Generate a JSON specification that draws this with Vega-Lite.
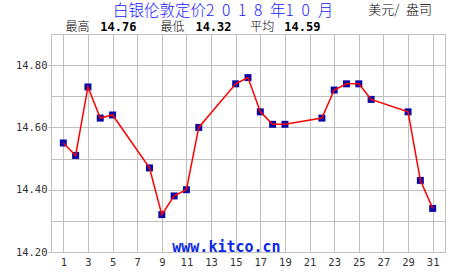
{
  "$schema": "https://vega.github.io/schema/vega-lite/v6.json",
  "autosize": "none",
  "width": 394,
  "height": 218,
  "padding": {"left": 51, "top": 34, "right": 5, "bottom": 23},
  "background": "#ffffff",
  "config": {
    "view": {"stroke": "#c0c0c0", "strokeWidth": 1},
    "axis": {
      "labelFont": "DejaVu Sans Mono",
      "labelFontSize": 10.5,
      "labelColor": "#333333",
      "gridColor": "#c0c0c0",
      "gridOpacity": 1,
      "domain": false,
      "title": null,
      "labelOverlap": false,
      "labelFlush": false
    }
  },
  "data": {
    "values": [
      {"day": 1, "price": 14.55},
      {"day": 2, "price": 14.51},
      {"day": 3, "price": 14.73},
      {"day": 4, "price": 14.63},
      {"day": 5, "price": 14.64},
      {"day": 8, "price": 14.47},
      {"day": 9, "price": 14.32},
      {"day": 10, "price": 14.38},
      {"day": 11, "price": 14.40},
      {"day": 12, "price": 14.60},
      {"day": 15, "price": 14.74},
      {"day": 16, "price": 14.76},
      {"day": 17, "price": 14.65},
      {"day": 18, "price": 14.61},
      {"day": 19, "price": 14.61},
      {"day": 22, "price": 14.63},
      {"day": 23, "price": 14.72},
      {"day": 24, "price": 14.74},
      {"day": 25, "price": 14.74},
      {"day": 26, "price": 14.69},
      {"day": 29, "price": 14.65},
      {"day": 30, "price": 14.43},
      {"day": 31, "price": 14.34}
    ]
  },
  "encoding": {
    "x": {
      "field": "day",
      "type": "quantitative",
      "scale": {"domain": [0, 32], "nice": false, "zero": false},
      "axis": {
        "values": [1, 3, 5, 7, 9, 11, 13, 15, 17, 19, 21, 23, 25, 27, 29, 31],
        "ticks": false,
        "labelPadding": 5,
        "labelFlush": false,
        "labelOverlap": false
      }
    },
    "y": {
      "field": "price",
      "type": "quantitative",
      "scale": {"domain": [14.2, 14.9], "nice": false, "zero": false},
      "axis": {
        "values": [14.2, 14.3, 14.4, 14.5, 14.6, 14.7, 14.8, 14.9],
        "labelExpr": "round(datum.value*10) % 2 == 0 ? format(datum.value, '.2f') : ''",
        "tickSize": 3,
        "tickColor": {"condition": {"test": "round(datum.value*10) % 2 == 0", "value": "#c0c0c0"}, "value": "transparent"},
        "labelPadding": 1,
        "labelFlush": false,
        "labelOverlap": false
      }
    }
  },
  "layer": [
    {"mark": {"type": "point", "shape": "square", "filled": true, "size": 49, "color": "#0a0aa8", "opacity": 1}},
    {"mark": {"type": "line", "color": "#ff0000", "strokeWidth": 1.5}},
    {
      "transform": [{"filter": "datum.day == 1"}],
      "mark": {"type": "text", "text": "www.kitco.cn", "font": "DejaVu Sans Mono", "fontWeight": "bold", "fontSize": 15, "color": "#0a28e6", "align": "center", "baseline": "middle"},
      "encoding": {"x": {"datum": 14.25}, "y": {"datum": 14.216}}
    },
    {
      "transform": [{"filter": "datum.day == 1"}],
      "mark": {"type": "text", "text": "白银伦敦定价2\u20020\u20021\u20028\u2002年1\u20020\u2002月", "font": "Noto Sans CJK SC", "fontSize": 15.5, "fontWeight": 300, "color": "#1a1aff", "align": "center", "baseline": "middle"},
      "encoding": {"x": {"datum": 13.97}, "y": {"datum": 14.975}}
    },
    {
      "transform": [{"filter": "datum.day == 1"}],
      "mark": {"type": "text", "text": "最高", "font": "Noto Sans CJK SC", "fontSize": 12, "fontWeight": 300, "color": "#000000", "align": "left", "baseline": "middle"},
      "encoding": {"x": {"datum": 1.18}, "y": {"datum": 14.923}}
    },
    {
      "transform": [{"filter": "datum.day == 1"}],
      "mark": {"type": "text", "text": "14.76", "font": "DejaVu Sans Mono", "fontWeight": "bold", "fontSize": 12, "color": "#000000", "align": "left", "baseline": "middle"},
      "encoding": {"x": {"datum": 4.0}, "y": {"datum": 14.923}}
    },
    {
      "transform": [{"filter": "datum.day == 1"}],
      "mark": {"type": "text", "text": "最低", "font": "Noto Sans CJK SC", "fontSize": 12, "fontWeight": 300, "color": "#000000", "align": "left", "baseline": "middle"},
      "encoding": {"x": {"datum": 8.89}, "y": {"datum": 14.923}}
    },
    {
      "transform": [{"filter": "datum.day == 1"}],
      "mark": {"type": "text", "text": "14.32", "font": "DejaVu Sans Mono", "fontWeight": "bold", "fontSize": 12, "color": "#000000", "align": "left", "baseline": "middle"},
      "encoding": {"x": {"datum": 11.73}, "y": {"datum": 14.923}}
    },
    {
      "transform": [{"filter": "datum.day == 1"}],
      "mark": {"type": "text", "text": "平均", "font": "Noto Sans CJK SC", "fontSize": 12, "fontWeight": 300, "color": "#000000", "align": "left", "baseline": "middle"},
      "encoding": {"x": {"datum": 16.19}, "y": {"datum": 14.923}}
    },
    {
      "transform": [{"filter": "datum.day == 1"}],
      "mark": {"type": "text", "text": "14.59", "font": "DejaVu Sans Mono", "fontWeight": "bold", "fontSize": 12, "color": "#000000", "align": "left", "baseline": "middle"},
      "encoding": {"x": {"datum": 18.95}, "y": {"datum": 14.923}}
    },
    {
      "transform": [{"filter": "datum.day == 1"}],
      "mark": {"type": "text", "text": "美元/\u2002盎司", "font": "Noto Sans CJK SC", "fontSize": 13, "fontWeight": 300, "color": "#000000", "align": "left", "baseline": "middle"},
      "encoding": {"x": {"datum": 25.77}, "y": {"datum": 14.976}}
    }
  ]
}
